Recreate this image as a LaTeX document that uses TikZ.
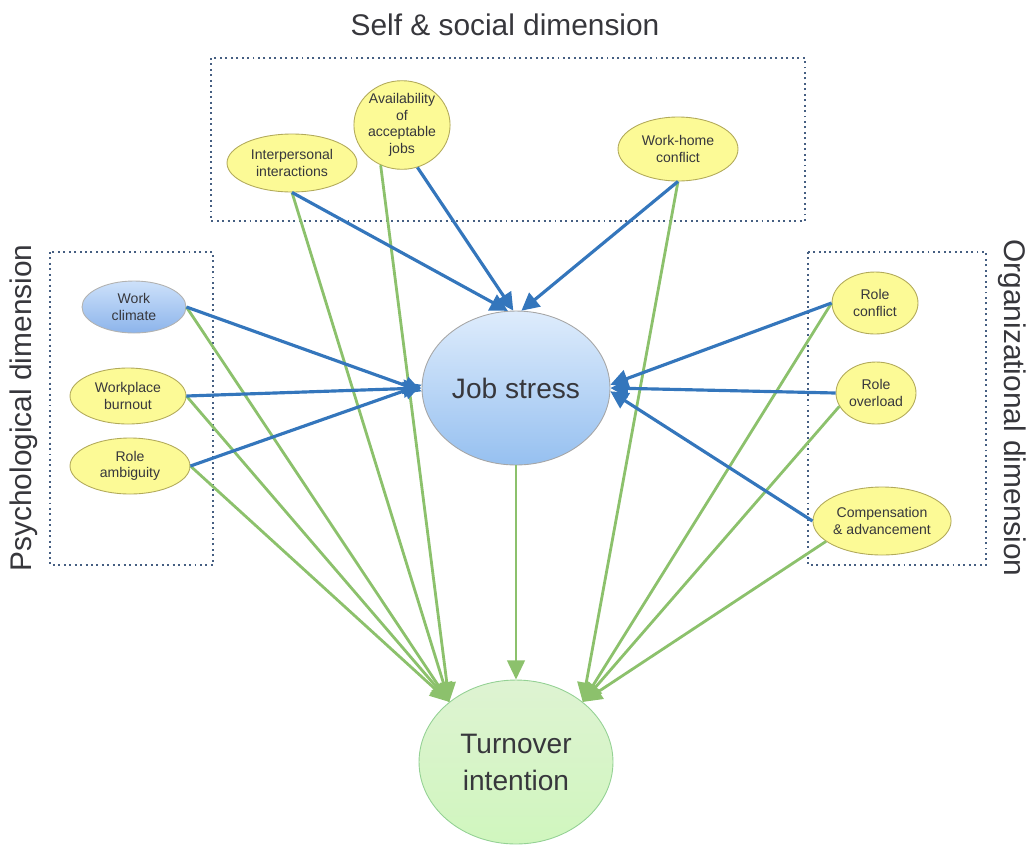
\documentclass[tikz,border=0pt]{standalone}
\usepackage{fontspec}
\setmainfont{Liberation Sans}
\usetikzlibrary{shapes.geometric,arrows.meta}
\definecolor{linkblue}{RGB}{52,118,188}
\definecolor{linkgreen}{RGB}{140,193,108}
\definecolor{factorfill}{RGB}{252,250,150}
\definecolor{factorline}{RGB}{178,170,90}
\definecolor{boxline}{RGB}{70,95,130}
\definecolor{txt}{RGB}{55,55,60}
\begin{document}
\begin{tikzpicture}[x=0.02cm,y=-0.02cm,
  factor/.style={ellipse,draw=factorline,line width=0.5pt,fill=factorfill,
    inner sep=0pt,align=center,font=\fontsize{8}{9.4}\selectfont,text=txt},
  dimbox/.style={draw=boxline,dotted,line width=1.1pt},
  dimlabel/.style={font=\fontsize{17}{20}\selectfont,text=txt},
  blink/.style={draw=linkblue,line width=1.8pt,-{Triangle[length=10pt,width=10pt]}},
  glink/.style={draw=linkgreen,line width=1.6pt,-{Triangle[length=11pt,width=10pt]}}]
\useasboundingbox (0,0) rectangle (1033,849);

% dimension frames and their titles
\draw[dimbox] (211,58) rectangle (805,221);
\draw[dimbox] (50,252) rectangle (213,565);
\draw[dimbox] (808,252) rectangle (986,565);
\node[dimlabel] (tself) at (505,25) {Self \& social dimension};
\node[dimlabel,rotate=90] (tpsy) at (24,408) {Psychological dimension};
\node[dimlabel,rotate=-90] (torg) at (1012,408) {Organizational dimension};

% central constructs
\node[ellipse,draw=gray!70,line width=0.5pt,top color={rgb,255:red,222;green,236;blue,252},bottom color={rgb,255:red,150;green,192;blue,240},
  minimum width=3.76cm,minimum height=3.08cm,inner sep=0pt,
  font=\fontsize{16}{19}\selectfont,text=txt] (js) at (516,388) {Job stress};
\node[ellipse,draw=green!40!gray!60,line width=0.5pt,top color={rgb,255:red,222;green,243;blue,210},bottom color={rgb,255:red,208;green,246;blue,190},
  minimum width=3.88cm,minimum height=3.28cm,inner sep=0pt,align=center,
  font=\fontsize{16}{21}\selectfont,text=txt] (tn) at (516,762) {Turnover\\intention};

% self & social factors
\node[factor,minimum width=2.6cm,minimum height=1.16cm] (ii) at (292,163) {Interpersonal\\interactions};
\node[factor,minimum width=1.88cm,minimum height=1.72cm] (aj) at (402,125) {Availability\\of\\acceptable\\jobs};
\node[factor,minimum width=2.4cm,minimum height=1.28cm] (wh) at (678,149) {Work-home\\conflict};

% psychological factors
\node[factor,draw=gray!60,top color={rgb,255:red,205;green,225;blue,250},bottom color={rgb,255:red,140;green,180;blue,235},
  minimum width=2.08cm,minimum height=1.04cm] (wc) at (134,307) {Work\\climate};
\node[factor,minimum width=2.32cm,minimum height=1.12cm] (wb) at (128,396) {Workplace\\burnout};
\node[factor,minimum width=2.4cm,minimum height=1.12cm] (ra) at (130,466) {Role\\ambiguity};

% organizational factors
\node[factor,minimum width=1.72cm,minimum height=1.24cm] (rc) at (875,303) {Role\\conflict};
\node[factor,minimum width=1.6cm,minimum height=1.24cm] (ro) at (876,393) {Role\\overload};
\node[factor,minimum width=2.48cm,minimum height=1.36cm] (ca) at (882,521) {Compensation\\\& advancement};

% direct effects on turnover intention
\draw[glink] (wc.east) -- (tn.138);
\draw[glink] (wb.east) -- (tn.138);
\draw[glink] (ra.east) -- (tn.138);
\draw[glink] (ii.south) -- (tn.138);
\draw[glink] (aj.-118) -- (tn.138);
\draw[glink] (wh.south) -- (tn.42);
\draw[glink] (rc.west) -- (tn.42);
\draw[glink] (ro.200) -- (tn.42);
\draw[glink] (ca.200) -- (tn.42);
\draw[glink] (js.south) -- (tn.north);

% effects on job stress
\draw[blink] (ii.south) -- (js.96);
\draw[blink] (aj.-70) -- (js.92);
\draw[blink] (wh.south) -- (js.86);
\draw[blink] (wc.east) -- (js.182);
\draw[blink] (wb.east) -- (js.180);
\draw[blink] (ra.east) -- (js.178);
\draw[blink] (rc.west) -- (js.2);
\draw[blink] (ro.west) -- (js.0);
\draw[blink] (ca.west) -- (js.-2);
\end{tikzpicture}
\end{document}
